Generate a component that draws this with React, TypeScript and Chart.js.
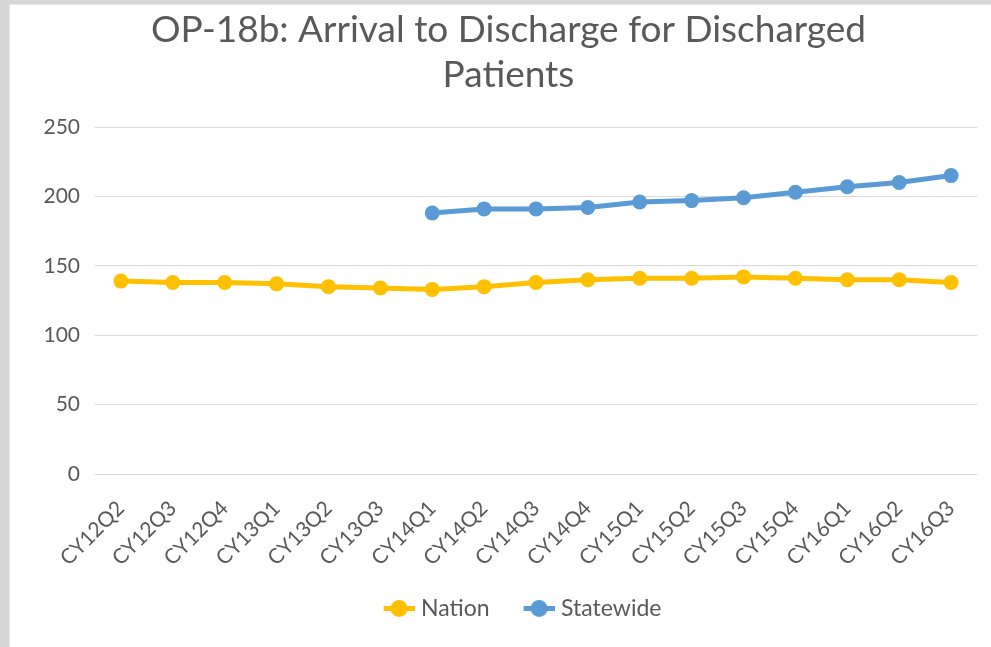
import React, { useEffect, useRef } from "react";
import { Chart, registerables } from "chart.js";

Chart.register(...registerables);

const titleLines = ["OP-18b: Arrival to Discharge for Discharged", "Patients"];
const categories = [
  "CY12Q2", "CY12Q3", "CY12Q4", "CY13Q1", "CY13Q2", "CY13Q3", "CY14Q1", "CY14Q2", "CY14Q3",
  "CY14Q4", "CY15Q1", "CY15Q2", "CY15Q3", "CY15Q4", "CY16Q1", "CY16Q2", "CY16Q3",
];
const nationValues = [139, 138, 138, 137, 135, 134, 133, 135, 138, 140, 141, 141, 142, 141, 140, 140, 138];
const statewideValues = [null, null, null, null, null, null, 188, 191, 191, 192, 196, 197, 199, 203, 207, 210, 215];
const yTicks = [0, 50, 100, 150, 200, 250];

const NATION_COLOR = "#FFC000";
const STATE_COLOR = "#5B9BD5";
const TEXT_COLOR = "#595959";
const FONT = "Lato, 'Open Sans', sans-serif";

// legend marker: blank lead-in on the left, then line + circle at the right end
function legendMarker(color: string): HTMLCanvasElement {
  const c = document.createElement("canvas");
  c.width = 60;
  c.height = 19;
  const ctx = c.getContext("2d")!;
  ctx.strokeStyle = color;
  ctx.lineWidth = 5;
  ctx.beginPath();
  ctx.moveTo(29, 9.5);
  ctx.lineTo(60, 9.5);
  ctx.stroke();
  ctx.fillStyle = color;
  ctx.beginPath();
  ctx.arc(44.5, 9.5, 8.5, 0, Math.PI * 2);
  ctx.fill();
  return c;
}

const legendShift = {
  id: "legendShift",
  afterLayout(chart: any) {
    const lg = chart.legend;
    if (lg) {
      lg.left += 2;
      lg.right += 2;
    }
  },
};

export default function App() {
  const ref = useRef<HTMLCanvasElement | null>(null);

  useEffect(() => {
    if (!ref.current) return;
    const markers = [legendMarker(NATION_COLOR), legendMarker(STATE_COLOR)];
    const chart = new Chart(ref.current, {
      type: "line",
      data: {
        labels: categories,
        datasets: [
          {
            label: "Nation",
            data: nationValues,
            borderColor: NATION_COLOR,
            backgroundColor: NATION_COLOR,
            borderWidth: 5,
            pointRadius: 7.5,
            pointBorderWidth: 0,
            pointBackgroundColor: NATION_COLOR,
            tension: 0,
          },
          {
            label: "Statewide",
            data: statewideValues,
            borderColor: STATE_COLOR,
            backgroundColor: STATE_COLOR,
            borderWidth: 5,
            pointRadius: 7.5,
            pointBorderWidth: 0,
            pointBackgroundColor: STATE_COLOR,
            tension: 0,
          },
        ],
      },
      options: {
        animation: false,
        responsive: false,
        devicePixelRatio: 1,
        layout: { padding: { left: 30, right: 14, top: 2, bottom: 17 } },
        plugins: {
          title: {
            display: true,
            text: titleLines,
            color: TEXT_COLOR,
            font: { family: FONT, size: 37, weight: "normal", lineHeight: 1.23 },
            padding: { top: 0, bottom: 29 },
          },
          legend: {
            display: true,
            position: "bottom",
            labels: {
              color: TEXT_COLOR,
              font: { family: FONT, size: 23 },
              usePointStyle: true,
              pointStyleWidth: 50,
              padding: 10,
              generateLabels: (ch: any) =>
                ch.data.datasets.map((ds: any, i: number) => ({
                  text: ds.label,
                  fillStyle: ds.borderColor,
                  strokeStyle: ds.borderColor,
                  lineWidth: 0,
                  pointStyle: markers[i],
                  fontColor: TEXT_COLOR,
                  hidden: false,
                  datasetIndex: i,
                })),
            },
          },
          tooltip: { enabled: false },
        },
        scales: {
          x: {
            offset: true,
            grid: { display: false, drawTicks: false },
            border: { display: false },
            ticks: {
              color: TEXT_COLOR,
              font: { family: FONT, size: 21 },
              minRotation: 45,
              maxRotation: 45,
              autoSkip: false,
              padding: 22,
            },
            afterFit: (s: any) => {
              s.height = 113;
              s.paddingLeft = 0;
              s.paddingRight = 0;
            },
          },
          y: {
            min: 0,
            max: 250,
            afterBuildTicks: (s: any) => {
              s.ticks = yTicks.map((v) => ({ value: v }));
            },
            grid: { color: "#D9D9D9", lineWidth: 1, drawTicks: false },
            border: { display: false },
            ticks: {
              color: TEXT_COLOR,
              font: { family: FONT, size: 21 },
              padding: 15,
            },
            afterFit: (s: any) => {
              s.width = 55;
            },
          },
        },
      },
      plugins: [legendShift],
    });
    return () => chart.destroy();
  }, []);

  return (
    <div style={{ position: "absolute", left: 0, top: 0, width: 991, height: 647, background: "#D6D6D6" }}>
      <div
        style={{
          position: "absolute",
          left: 9,
          top: 4,
          width: 981,
          height: 642,
          borderLeft: "1px solid #EAEAEA",
          borderTop: "1px solid #EAEAEA",
          background: "#FFFFFF",
        }}
      >
        <canvas ref={ref} width={981} height={642} style={{ display: "block", width: 981, height: 642 }} />
      </div>
    </div>
  );
}
